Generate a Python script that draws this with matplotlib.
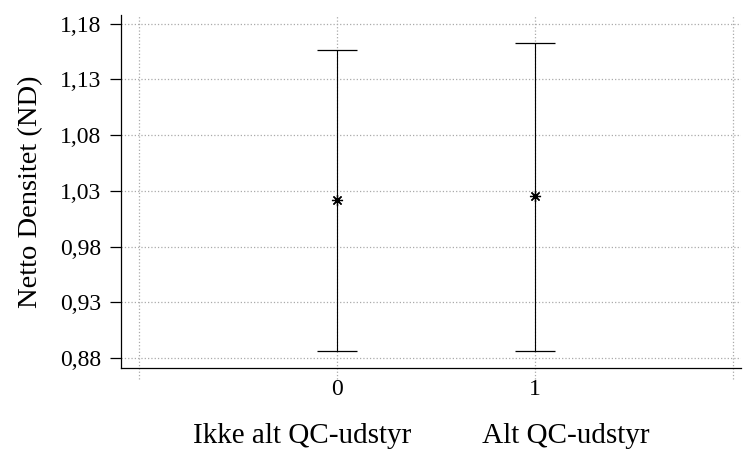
import matplotlib
matplotlib.use('Agg')
import matplotlib.pyplot as plt
from matplotlib.ticker import FuncFormatter

# data
groups = [0, 1]
group_names = ["Ikke alt QC-udstyr", "Alt QC-udstyr"]
means = [1.022, 1.0255]
upper = [1.1565, 1.163]
lower = [0.886, 0.886]
y_ticks = [0.88, 0.93, 0.98, 1.03, 1.08, 1.13, 1.18]

plt.rcParams['font.family'] = ['Liberation Serif', 'DejaVu Serif']

fig = plt.figure(figsize=(7.47, 4.5), dpi=100)
ax = fig.add_axes([0.162, 0.182, 0.830, 0.785])

err_low = [m - lo for m, lo in zip(means, lower)]
err_high = [hi - m for m, hi in zip(means, upper)]
ax.errorbar(groups, means, yerr=[err_low, err_high], fmt='none',
            ecolor='black', elinewidth=0.8, capsize=14.4, capthick=0.9, zorder=3)
ax.plot(groups, means, linestyle='none', marker=(8, 2, 0), markersize=8,
        color='black', markeredgewidth=0.9, zorder=4)

ax.set_xlim(-1.09, 2.04)
ax.set_ylim(0.871, 1.188)

# grid: horizontal inside, vertical lines reaching a bit below the axis
for yv in y_ticks:
    ax.axhline(yv, color='#aaaaaa', linestyle=':', linewidth=0.9, zorder=1)
for xv in [-1, 0, 1, 2]:
    ax.axvline(xv, ymin=-0.03, ymax=1, color='#aaaaaa', linestyle=':',
               linewidth=0.9, clip_on=False, zorder=1)

ax.set_yticks(y_ticks)
ax.yaxis.set_major_formatter(FuncFormatter(lambda v, p: f"{v:.2f}".replace('.', ',')))
ax.set_xticks(groups)
ax.set_xticklabels([str(g) for g in groups])
ax.tick_params(axis='x', length=0, pad=8, labelsize=17)
ax.tick_params(axis='y', length=8, width=0.9, pad=6, labelsize=17)

ax.spines['top'].set_visible(False)
ax.spines['right'].set_visible(False)
ax.spines['left'].set_linewidth(0.9)
ax.spines['bottom'].set_linewidth(0.9)

ax.set_ylabel("Netto Densitet (ND)", fontsize=20.5, labelpad=12)
ax.set_xlabel(group_names[0] + "          " + group_names[1], fontsize=21)
ax.xaxis.set_label_coords(0.484, -0.155)

fig.savefig("out.png", dpi=100)
plt.close(fig)
